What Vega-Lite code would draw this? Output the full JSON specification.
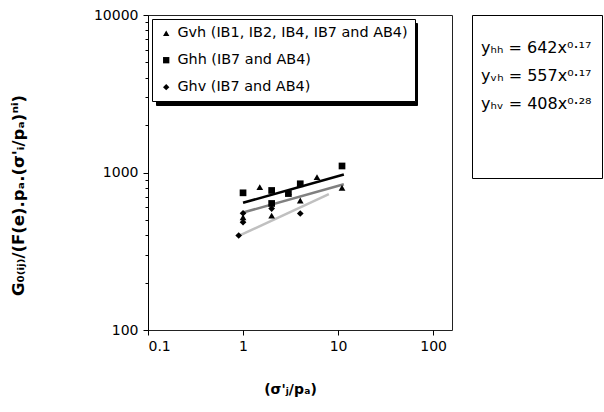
{
  "$schema": "https://vega.github.io/schema/vega-lite/v6.json",
  "width": 304,
  "height": 315,
  "autosize": {"type": "none"},
  "padding": {"left": 148, "top": 15, "right": 152, "bottom": 82},
  "background": "white",
  "config": {
    "font": "DejaVu Sans",
    "view": {"stroke": "#222", "strokeWidth": 1},
    "axis": {"labelFont": "DejaVu Sans", "labelFontSize": 14, "labelColor": "#000", "domainColor": "#000", "tickColor": "#000", "grid": false, "titleColor": "#000", "labelOverlap": false}
  },
  "datasets": {
    "shadow": [
      {"v": 0}, {"v": 1}
    ],
    "pts": [
      {"series": "Gvh (IB1, IB2, IB4, IB7 and AB4)", "s": 1.0, "g": 520},
      {"series": "Gvh (IB1, IB2, IB4, IB7 and AB4)", "s": 1.5, "g": 807},
      {"series": "Gvh (IB1, IB2, IB4, IB7 and AB4)", "s": 2.0, "g": 533},
      {"series": "Gvh (IB1, IB2, IB4, IB7 and AB4)", "s": 3.0, "g": 750},
      {"series": "Gvh (IB1, IB2, IB4, IB7 and AB4)", "s": 4.0, "g": 664},
      {"series": "Gvh (IB1, IB2, IB4, IB7 and AB4)", "s": 6.0, "g": 934},
      {"series": "Gvh (IB1, IB2, IB4, IB7 and AB4)", "s": 11.0, "g": 800},
      {"series": "Ghh (IB7 and AB4)", "s": 1.0, "g": 743},
      {"series": "Ghh (IB7 and AB4)", "s": 2.0, "g": 769},
      {"series": "Ghh (IB7 and AB4)", "s": 2.0, "g": 636},
      {"series": "Ghh (IB7 and AB4)", "s": 3.0, "g": 735},
      {"series": "Ghh (IB7 and AB4)", "s": 4.0, "g": 848},
      {"series": "Ghh (IB7 and AB4)", "s": 11.0, "g": 1100},
      {"series": "Ghv (IB7 and AB4)", "s": 1.0, "g": 551},
      {"series": "Ghv (IB7 and AB4)", "s": 1.0, "g": 484},
      {"series": "Ghv (IB7 and AB4)", "s": 0.9, "g": 398},
      {"series": "Ghv (IB7 and AB4)", "s": 2.0, "g": 590},
      {"series": "Ghv (IB7 and AB4)", "s": 4.0, "g": 549}
    ],
    "fits": [
      {"fit": "yₕₕ = 642x⁰·¹⁷", "s": 1.0, "g": 642},
      {"fit": "yₕₕ = 642x⁰·¹⁷", "s": 11.5, "g": 972},
      {"fit": "yᵥₕ = 557x⁰·¹⁷", "s": 1.0, "g": 557},
      {"fit": "yᵥₕ = 557x⁰·¹⁷", "s": 11.5, "g": 843},
      {"fit": "yₕᵥ = 408x⁰·²⁸", "s": 0.9, "g": 396},
      {"fit": "yₕᵥ = 408x⁰·²⁸", "s": 8.0, "g": 730}
    ]
  },
  "layer": [
    {
      "data": {"name": "shadow"},
      "mark": {"type": "point", "opacity": 0},
      "encoding": {
        "fill": {"field": "v", "type": "quantitative",
          "scale": {"domain": [0, 1], "range": ["#000000", "#000000"]},
          "legend": {"orient": "none", "legendX": 8, "legendY": 8, "title": null, "direction": "horizontal",
            "gradientLength": 261, "gradientThickness": 70, "gradientStrokeWidth": 0, "labels": false,
            "strokeColor": "#000", "fillColor": "#000", "padding": 0}}
      }
    },
    {
      "data": {"name": "fits"},
      "mark": {"type": "line", "strokeWidth": 2.5},
      "encoding": {
        "x": {"field": "s", "type": "quantitative", "scale": {"type": "log", "domain": [0.1, 158], "nice": false},
          "axis": {"values": [0.1, 1, 10, 100], "format": "~g", "tickSize": 5, "labelPadding": 4, "domain": false,
            "title": "(σ'ⱼ/pₐ)", "titleFont": "DejaVu Sans", "titleFontSize": 14, "titleFontWeight": "bold", "titleX": 142, "titleY": 52}},
        "y": {"field": "g", "type": "quantitative", "scale": {"type": "log", "domain": [100, 10000], "nice": false},
          "axis": {"values": [100, 200, 300, 400, 500, 600, 700, 800, 900, 1000, 2000, 3000, 4000, 5000, 6000, 7000, 8000, 9000, 10000],
            "labelExpr": "datum.value == 100 || datum.value == 1000 || datum.value == 10000 ? format(datum.value, 'd') : ''",
            "tickSize": {"condition": {"test": "datum.value == 100 || datum.value == 1000 || datum.value == 10000", "value": 5}, "value": 3},
            "labelPadding": 5,
            "title": "G₀₍ᵢⱼ₎/(F(e).pₐ.(σ'ᵢ/pₐ)ⁿⁱ)", "titleFont": "DejaVu Sans", "titleFontSize": 16.5, "titleFontWeight": "bold", "titleX": -130, "titleY": 180, "titleBaseline": "middle", "titleAlign": "center"}},
        "color": {"field": "fit", "type": "nominal",
          "scale": {"domain": ["yₕₕ = 642x⁰·¹⁷", "yᵥₕ = 557x⁰·¹⁷", "yₕᵥ = 408x⁰·²⁸", "~1", "~2"], "range": ["#000000", "#808080", "#c0c0c0", "#ffffff", "#ffffff"]},
          "legend": {"orient": "none", "legendX": 324, "legendY": 0, "title": " ", "titleFontSize": 8, "titlePadding": 7, "symbolOpacity": 0, "symbolSize": 0,
            "labelExpr": "indexof(datum.label, '~') == 0 ? '' : datum.label",
            "labelFontSize": 16, "labelFont": "DejaVu Sans", "labelColor": "#000", "rowPadding": 12, "labelLimit": 200,
            "strokeColor": "#000", "fillColor": "white", "padding": 10, "labelOffset": -17}}
      }
    },
    {
      "data": {"name": "pts"},
      "mark": {"type": "point", "filled": true, "opacity": 1, "color": "#000", "size": 45},
      "encoding": {
        "x": {"field": "s", "type": "quantitative"},
        "y": {"field": "g", "type": "quantitative"},
        "shape": {"field": "series", "type": "nominal",
          "scale": {"domain": ["Gvh (IB1, IB2, IB4, IB7 and AB4)", "Ghh (IB7 and AB4)", "Ghv (IB7 and AB4)"], "range": ["triangle-up", "square", "diamond"]},
          "legend": {"orient": "none", "legendX": 4, "legendY": 4, "title": null, "symbolFillColor": "#000", "symbolStrokeColor": "#000", "symbolSize": 40,
            "labelFontSize": 14.4, "labelFont": "DejaVu Sans", "labelColor": "#000", "rowPadding": 12, "labelLimit": 400,
            "strokeColor": "#000", "fillColor": "white", "padding": 7}}
      }
    }
  ]
}
